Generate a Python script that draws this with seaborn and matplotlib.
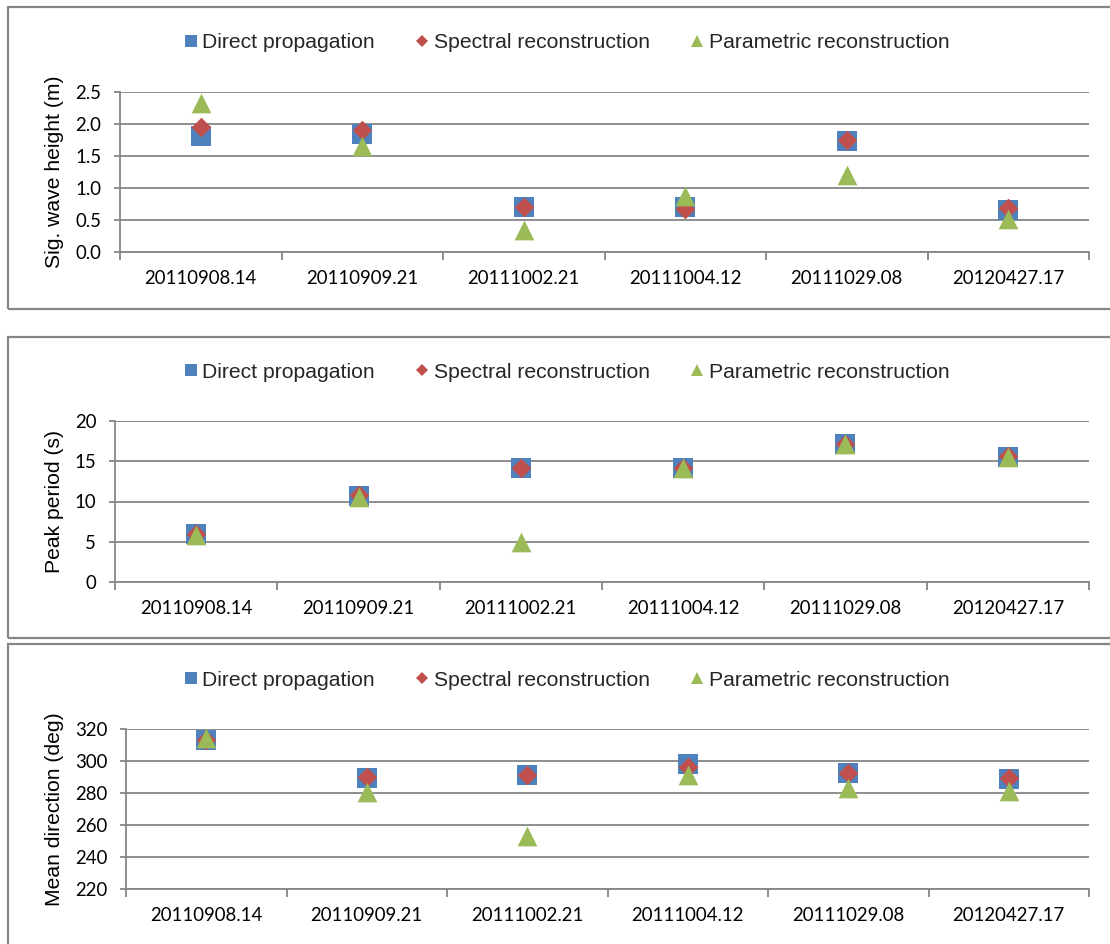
import matplotlib
matplotlib.use("Agg")
import matplotlib.pyplot as plt
from matplotlib.patches import Rectangle
from matplotlib.lines import Line2D
import seaborn as sns
import pandas as pd

# Storm events (date.hour)
events = ["20110908.14", "20110909.21", "20111002.21",
          "20111004.12", "20111029.08", "20120427.17"]

series_names = ["Direct propagation", "Spectral reconstruction",
                "Parametric reconstruction"]

# Significant wave height (m)
hs_direct = [1.82, 1.85, 0.70, 0.70, 1.73, 0.66]
hs_spectral = [1.95, 1.90, 0.71, 0.67, 1.75, 0.68]
hs_parametric = [2.33, 1.66, 0.35, 0.88, 1.20, 0.52]

# Peak period (s)
tp_direct = [6.0, 10.7, 14.1, 14.1, 17.1, 15.5]
tp_spectral = [6.0, 10.8, 14.1, 14.2, 17.1, 15.6]
tp_parametric = [5.9, 10.6, 5.0, 14.1, 17.1, 15.5]

# Mean direction (deg)
dir_direct = [313.0, 289.4, 291.5, 298.3, 292.5, 288.8]
dir_spectral = [313.0, 289.8, 291.5, 296.3, 292.5, 289.4]
dir_parametric = [314.4, 280.6, 253.0, 291.5, 283.0, 281.5]

ylabels = ["Sig. wave height (m)", "Peak period (s)", "Mean direction (deg)"]
yticks = [[0.0, 0.5, 1.0, 1.5, 2.0, 2.5],
          [0, 5, 10, 15, 20],
          [220, 240, 260, 280, 300, 320]]
yfmt = ["{:.1f}", "{:.0f}", "{:.0f}"]

colors = ["#4F81BD", "#C0504D", "#9BBB59"]
markers = ["s", "D", "^"]
msize = [14.2, 10.0, 14.2]     # data marker sizes (pt)
lsize = [8.0, 6.6, 8.7]        # legend marker sizes (pt)
grid_c = "#868686"

sns.set_theme(style="white")
plt.rcParams["font.family"] = ["Liberation Sans", "DejaVu Sans"]

W, H = 1110, 944
fig = plt.figure(figsize=(W / 100, H / 100), dpi=100)

# pixel layout: axes box (left, right, top, bottom), panel frame (top, bottom), legend y, label x
layout = [
    dict(ax=(120, 1089, 92, 252), frame=(7, 309), leg=43, lab=55),
    dict(ax=(115, 1089, 421, 582), frame=(337, 638), leg=372, lab=55),
    dict(ax=(126, 1089, 729, 889), frame=(644, 960), leg=680, lab=55),
]

panels = [
    (hs_direct, hs_spectral, hs_parametric),
    (tp_direct, tp_spectral, tp_parametric),
    (dir_direct, dir_spectral, dir_parametric),
]

for i, (vals, lay) in enumerate(zip(panels, layout)):
    l, r, t, b = lay["ax"]
    ax = fig.add_axes([l / W, 1 - b / H, (r - l) / W, (b - t) / H])

    # panel frame
    ft, fb = lay["frame"]
    fig.patches.append(Rectangle((7.5 / W, 1 - fb / H), (1115 - 7.5) / W, (fb - ft) / H,
                                 transform=fig.transFigure, fill=False,
                                 edgecolor=grid_c, linewidth=1.6, zorder=0))

    for j in range(3):
        df = pd.DataFrame({"event": events, "value": vals[j]})
        sns.scatterplot(data=df, x="event", y="value", ax=ax,
                        marker=markers[j], color=colors[j],
                        s=msize[j] ** 2, linewidth=0, zorder=3 + j,
                        legend=False)

    ax.set_xlim(-0.5, len(events) - 0.5)
    ax.set_ylim(yticks[i][0], yticks[i][-1])
    ax.set_yticks(yticks[i])
    ax.set_yticklabels([yfmt[i].format(v) for v in yticks[i]])
    ax.set_xticks(range(len(events)))
    ax.set_xticklabels(events)
    ax.set_xticks([k - 0.5 for k in range(len(events) + 1)], minor=True)

    ax.grid(axis="y", color=grid_c, linewidth=1.3, zorder=1)
    ax.set_axisbelow(True)
    for s in ["top", "right"]:
        ax.spines[s].set_visible(False)
    for s in ["left", "bottom"]:
        ax.spines[s].set_color(grid_c)
        ax.spines[s].set_linewidth(1.3)

    ax.tick_params(axis="x", which="major", length=0, pad=13,
                   labelsize=13.4, labelcolor="black")
    ax.tick_params(axis="x", which="minor", length=6, width=1.3,
                   color=grid_c, direction="out", bottom=True)
    ax.tick_params(axis="y", which="major", length=4.5, width=1.3,
                   color=grid_c, direction="out", left=True, pad=9,
                   labelsize=13.4, labelcolor="black")
    for lbl in ax.get_xticklabels() + ax.get_yticklabels():
        lbl.set_fontfamily(["Lato", "DejaVu Sans"])

    ax.set_xlabel("")
    ax.set_ylabel(ylabels[i], fontsize=15.2, color="black")
    ax.yaxis.label.set_verticalalignment("center")
    ax.yaxis.set_label_coords((lay["lab"] - l) / (r - l), 0.5)

    handles = [Line2D([], [], linestyle="none", marker=markers[j],
                      markersize=lsize[j], markerfacecolor=colors[j],
                      markeredgewidth=0) for j in range(3)]
    fig.legend(handles, series_names, loc="center",
               bbox_to_anchor=(567 / W, 1 - lay["leg"] / H),
               ncol=3, frameon=False, fontsize=15.2,
               handlelength=0.6, handletextpad=0.25, columnspacing=1.95,
               borderpad=0)

fig.savefig("out.png", dpi=100, facecolor="white")
